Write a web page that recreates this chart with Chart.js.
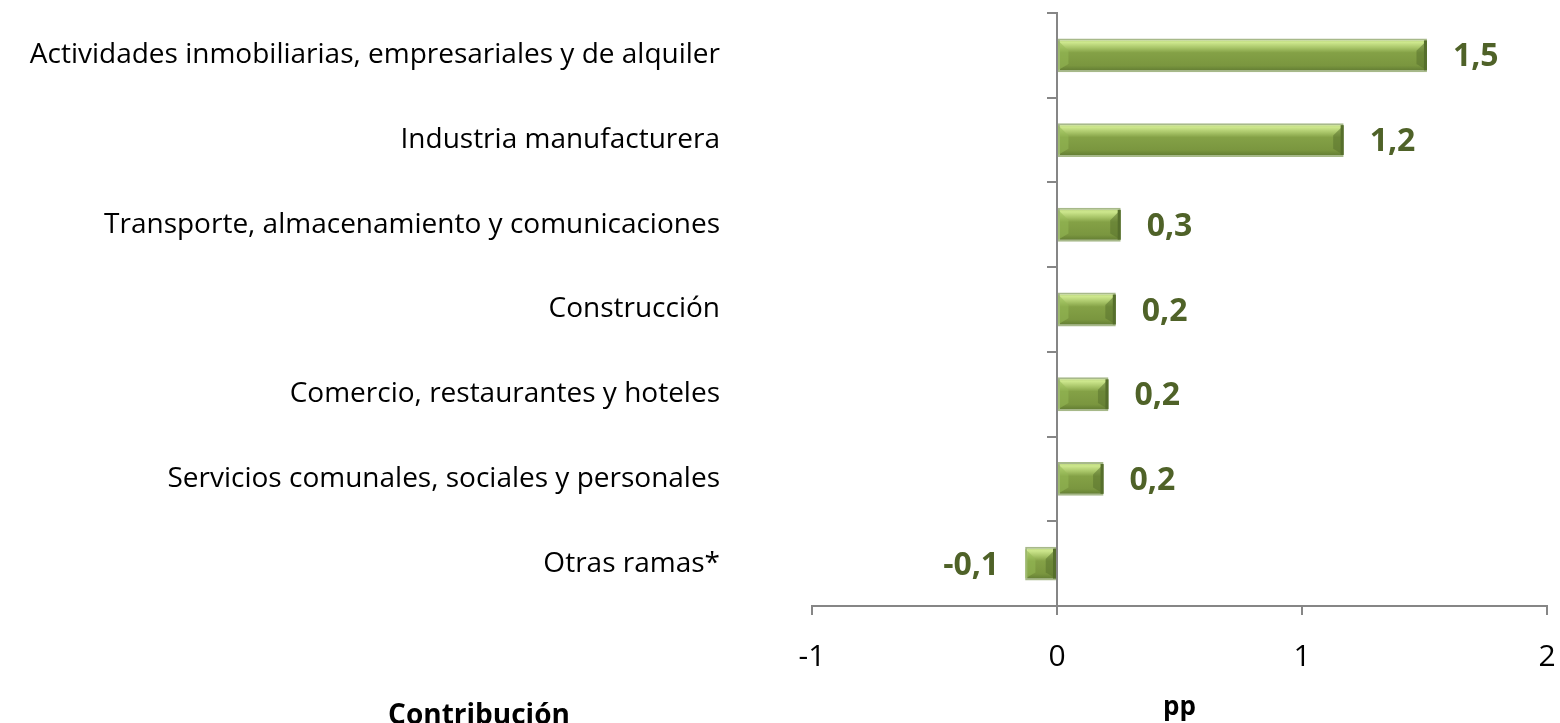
<!DOCTYPE html>
<html><head><meta charset="utf-8">
<script src="https://cdn.jsdelivr.net/npm/chart.js@4.4.0/dist/chart.umd.min.js"></script>
<style>html,body{margin:0;padding:0;background:#fff;overflow:hidden}</style>
</head><body>
<canvas id="c" width="1560" height="723"></canvas>
<script>
const categories = [
  'Actividades inmobiliarias, empresariales y de alquiler',
  'Industria manufacturera',
  'Transporte, almacenamiento y comunicaciones',
  'Construcción',
  'Comercio, restaurantes y hoteles',
  'Servicios comunales, sociales y personales',
  'Otras ramas*'
];
const values = [1.51, 1.17, 0.26, 0.24, 0.21, 0.19, -0.13];
const xTicks = [-1, 0, 1, 2];
const xTitle = 'pp';
const footTitle = 'Contribución';

const FONT = "'Open Sans', 'DejaVu Sans', sans-serif";
const AXIS = '#868686';
const LABEL_GREEN = '#4F6228';
const BAR_FRAC = 0.4;

function fmt(v){ return v.toFixed(1).replace('.', ','); }
function noPad(s){ s.paddingTop = 0; s.paddingBottom = 0; s.paddingLeft = 0; s.paddingRight = 0; }

const valueLabels = {
  id: 'valueLabels',
  afterDatasetsDraw(chart){
    const ctx = chart.ctx;
    const meta = chart.getDatasetMeta(0);
    ctx.save();
    ctx.font = "bold 32px " + FONT;
    ctx.fillStyle = LABEL_GREEN;
    ctx.textBaseline = 'middle';
    meta.data.forEach((el, i) => {
      const v = values[i];
      if (v >= 0){ ctx.textAlign = 'left'; ctx.fillText(fmt(v), el.x + 26, el.y + 2); }
      else { ctx.textAlign = 'right'; ctx.fillText(fmt(v), el.x - 26, el.y + 2); }
    });
    ctx.restore();
  }
};

const bevel = {
  id: 'bevel',
  afterDatasetsDraw(chart){
    const ctx = chart.ctx;
    const meta = chart.getDatasetMeta(0);
    ctx.save();
    meta.data.forEach((el) => {
      const l = Math.min(el.x, el.base), r = Math.max(el.x, el.base);
      const t = el.y - el.height/2 + 2, b = el.y + el.height/2 - 2;
      const h = b - t;
      const d = Math.min(h*0.35, (r-l)/3);
      ctx.fillStyle = 'rgba(150,185,85,0.55)';
      ctx.beginPath(); ctx.moveTo(l, t); ctx.lineTo(l+d, t+d); ctx.lineTo(l+d, b-d*0.6); ctx.lineTo(l, b); ctx.closePath(); ctx.fill();
      ctx.fillStyle = 'rgba(90,115,45,0.55)';
      ctx.beginPath(); ctx.moveTo(r, t); ctx.lineTo(r-d, t+d); ctx.lineTo(r-d, b-d*0.6); ctx.lineTo(r, b); ctx.closePath(); ctx.fill();
      ctx.fillStyle = '#566f2c';
      ctx.fillRect(r-3, t, 3, h);
    });
    ctx.restore();
  }
};

const footText = {
  id: 'footText',
  afterDraw(chart){
    const ctx = chart.ctx;
    ctx.save();
    ctx.font = "bold 28px " + FONT;
    ctx.fillStyle = '#000';
    ctx.textAlign = 'center';
    ctx.textBaseline = 'alphabetic';
    ctx.fillText(footTitle, 479, 724);
    ctx.restore();
  }
};

new Chart(document.getElementById('c'), {
  type: 'bar',
  data: {
    labels: categories,
    datasets: [{
      data: values,
      barPercentage: BAR_FRAC,
      categoryPercentage: 1,
      borderWidth: 2,
      borderSkipped: false,
      borderColor: '#a7b98a',
      backgroundColor: (c) => {
        const chart = c.chart;
        const ys = chart.scales.y;
        if (!ys || !chart.chartArea) return '#7d9a42';
        const yc = ys.getPixelForValue(c.dataIndex);
        const band = (chart.chartArea.bottom - chart.chartArea.top) / categories.length;
        const h = band * BAR_FRAC / 2;
        const g = chart.ctx.createLinearGradient(0, yc - h, 0, yc + h);
        g.addColorStop(0, '#b5cf7a');
        g.addColorStop(0.12, '#cde78d');
        g.addColorStop(0.28, '#a7c467');
        g.addColorStop(0.42, '#84a146');
        g.addColorStop(0.8, '#7a963f');
        g.addColorStop(1, '#5c7630');
        return g;
      }
    }]
  },
  options: {
    indexAxis: 'y',
    responsive: false,
    animation: false,
    devicePixelRatio: 1,
    layout: { padding: { top: 13, right: 13, left: 0, bottom: 0 } },
    plugins: { legend: { display: false }, tooltip: { enabled: false } },
    scales: {
      y: {
        type: 'category',
        position: 'left',
        border: { display: false },
        grid: { display: false, drawTicks: false },
        ticks: { padding: 92, color: '#000', font: { family: FONT, size: 28 } },
        afterFit: (s) => { s.width = 812; noPad(s); }
      },
      y2: {
        type: 'category',
        position: { x: 0 },
        offset: true,
        border: { display: true, color: AXIS, width: 2 },
        grid: { offset: true, drawOnChartArea: false, drawTicks: true, tickLength: 9, color: AXIS, lineWidth: 2 },
        ticks: { display: false },
        afterFit: (s) => { noPad(s); }
      },
      x: {
        type: 'linear',
        min: xTicks[0],
        max: xTicks[xTicks.length - 1],
        afterBuildTicks: (s) => { s.ticks = xTicks.map(v => ({ value: v })); },
        border: { display: true, color: AXIS, width: 2 },
        grid: { drawOnChartArea: false, drawTicks: true, tickLength: 9, color: AXIS, lineWidth: 2 },
        ticks: { padding: 24, color: '#000', font: { family: FONT, size: 30 }, callback: (v) => String(v) },
        title: { display: true, text: xTitle, color: '#000', font: { family: FONT, size: 26, weight: 'bold' }, padding: { top: 0, bottom: 0 } },
        afterFit: (s) => { s.height = 117; noPad(s); }
      }
    }
  },
  plugins: [bevel, valueLabels, footText]
});
</script>
</body></html>
